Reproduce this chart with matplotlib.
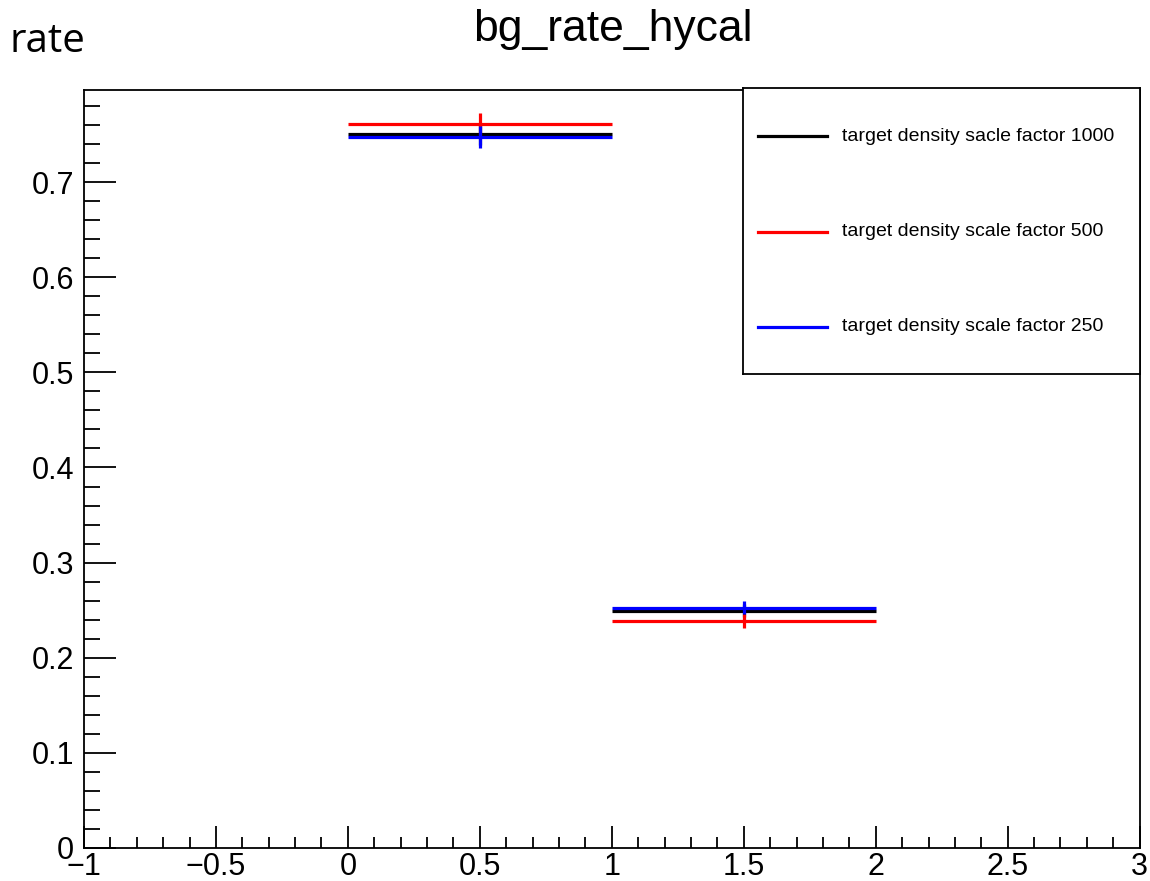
import matplotlib.pyplot as plt
from matplotlib.ticker import MultipleLocator, FuncFormatter

# bin edges and contents (normalized rates)
bin_lo = [0, 1]
bin_hi = [1, 2]
centers = [0.5, 1.5]

labels = ['target density sacle factor 1000',
          'target density scale factor 500',
          'target density scale factor 250']
colors = ['black', 'red', 'blue']

rate_1000 = [0.7505, 0.2495]
rate_500 = [0.7614, 0.2386]
rate_250 = [0.7473, 0.2527]
err_1000 = [0.0115, 0.0070]
err_500 = [0.0115, 0.0070]
err_250 = [0.0115, 0.0070]

series = [(rate_1000, err_1000), (rate_500, err_500), (rate_250, err_250)]

plt.rcParams['font.family'] = ['Liberation Sans', 'DejaVu Sans']


def fmt(v, pos):
    s = '%g' % round(v, 6)
    return s.replace('-', '\u2212')


fig = plt.figure(figsize=(11.5, 8.81), dpi=100)
ax = fig.add_axes([0.073, 0.0375, 0.918, 0.8605])

for (vals, errs), c in zip(series, colors):
    ax.hlines(vals, bin_lo, bin_hi, color=c, linewidth=2.3)
    ax.vlines(centers, [v - e for v, e in zip(vals, errs)],
              [v + e for v, e in zip(vals, errs)], color=c, linewidth=2.3)

ax.set_xlim(-1, 3)
ax.set_ylim(0, 0.797)

ax.xaxis.set_major_locator(MultipleLocator(0.5))
ax.xaxis.set_minor_locator(MultipleLocator(0.1))
ax.yaxis.set_major_locator(MultipleLocator(0.1))
ax.yaxis.set_minor_locator(MultipleLocator(0.02))
ax.xaxis.set_major_formatter(FuncFormatter(fmt))
ax.yaxis.set_major_formatter(FuncFormatter(fmt))

ax.tick_params(axis='both', which='both', direction='in', labelsize=22, width=1.3)
ax.tick_params(axis='x', which='major', length=16, pad=3)
ax.tick_params(axis='x', which='minor', length=8)
ax.tick_params(axis='y', which='major', length=23, pad=7)
ax.tick_params(axis='y', which='minor', length=11.5)
for s in ax.spines.values():
    s.set_linewidth(1.3)

fig.text(0.533, 0.966, 'bg_rate_hycal', ha='center', va='center', fontsize=32)
fig.text(0.008, 0.953, 'rate', ha='left', va='center', fontsize=29,
         family=['Open Sans', 'DejaVu Sans'])

# legend box
lg = fig.add_axes([0.646, 0.5755, 0.345, 0.3245])
lg.set_xlim(0, 1)
lg.set_ylim(0, 1)
lg.set_xticks([])
lg.set_yticks([])
for s in lg.spines.values():
    s.set_linewidth(1.3)
ypos = [0.831, 0.498, 0.166]
for y, lab, c in zip(ypos, labels, colors):
    lg.plot([0.038, 0.212], [y, y], color=c, linewidth=2.3)
    lg.text(0.25, y, lab, ha='left', va='center', fontsize=14)

fig.savefig('out.png', dpi=100)
